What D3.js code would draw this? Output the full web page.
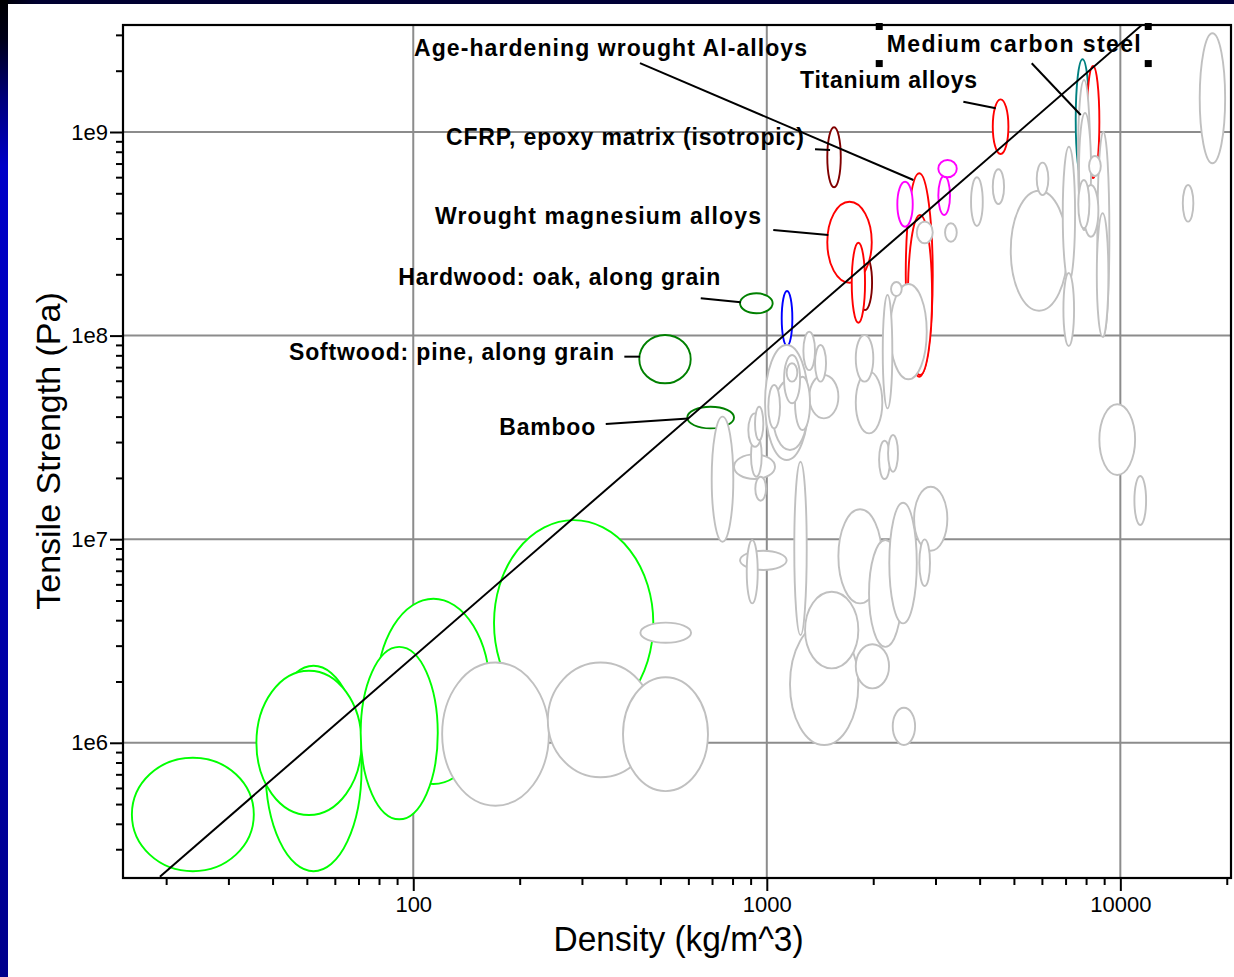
<!DOCTYPE html>
<html><head><meta charset="utf-8">
<script src="https://cdn.jsdelivr.net/npm/d3@7"></script>
<style>html,body{margin:0;padding:0;background:#fff;overflow:hidden}svg{display:block}</style>
</head><body>
<svg id="chart" width="1234" height="977"></svg>
<script>
// ---------------- DATA ----------------
const materialNames = [
  "Foam A","Foam B","Foam C","Foam D","Foam E","Foam F",
  "Bamboo","Softwood: pine, along grain","Hardwood: oak, along grain","Natural material",
  "CFRP, epoxy matrix (isotropic)","Composite B","Wrought magnesium alloys","Cast magnesium alloys",
  "Age-hardening wrought Al-alloys","Non age-hardening wrought Al-alloys",
  "Glass A","Glass B","Glass C","Titanium alloys","Medium carbon steel","High carbon steel",
  "Other 01","Other 02","Other 03","Other 04","Other 05","Other 06","Other 07","Other 08","Other 09","Other 10",
  "Other 11","Other 12","Other 13","Other 14","Other 15","Other 16","Other 17","Other 18","Other 19","Other 20",
  "Other 21","Other 22","Other 23","Other 24","Other 25","Other 26","Other 27","Other 28","Other 29","Other 30",
  "Other 31","Other 32","Other 33","Other 34","Other 35","Other 36","Other 37","Other 38","Other 39","Other 40",
  "Other 41","Other 42","Other 43","Other 44","Other 45","Other 46","Other 47","Other 48","Other 49","Other 50",
  "Other 51","Other 52","Other 53","Other 54","Other 55","Other 56","Other 57"
];
const materialFamily = [
  "foam","foam","foam","foam","foam","foam",
  "wood","wood","wood","natural",
  "composite","composite","nonferrous","nonferrous","nonferrous","nonferrous",
  "glass","glass","glass","nonferrous","ferrous","nonferrous",
  "other","other","other","other","other","other","other","other","other","other",
  "other","other","other","other","other","other","other","other","other","other",
  "other","other","other","other","other","other","other","other","other","other",
  "other","other","other","other","other","other","other","other","other","other",
  "other","other","other","other","other","other","other","other","other","other",
  "other","other","other","other","other","other","other"
];
// density range (kg/m^3)
const densityLow = [
  38.2,36.0,16.0,78.9,71.0,169.2,
  595.8,435.9,840,1102,
  1483,1811,1483,1739,2472,2508,
  2340,3056,3056,4357,7478,8035,
  120.7,240.2,392,439,1163,1283,988.6,4898,1196,698.5,
  16770,8610,2232,8723,1594,1946,2221,2610,1785,7592,
  7641,6873,8579,6902,1041,2128,807.7,840,877.5,1785,
  1319,2271,1785,1119,1202,7864,7606,3782,2701,10960,
  1010,1269,1369,902.2,886.6,926,2078,2203,4357,5801,
  15020,927.9,2656,1138,3193,8156,2246,2355
];
const densityHigh = [
  71.4,71.4,35.4,164.8,117.3,477.5,
  807.7,609.2,1039,1181,
  1619,1985,1981,1896,2947,2934,
  2587,3298,3446,4824,8173,8723,
  241.9,477.5,681.8,610.7,1815,1815,1311,7081,1297,804,
  19790,9311,2834,11010,2114,2408,2656,3241,2217,8211,
  8265,7447,9252,7398,1299,2265,1055,1138,942.6,2122,
  1594,2627,2001,1242,1325,8667,8173,4082,2895,11827,
  1090,1369,1471,967.4,967.4,977.7,2232,2350,4690,6258,
  16090,995,2947,1220,3446,8805,2408,2542
];
// tensile strength range (Pa)
const strengthLow = [
  2.34e5,4.42e5,2.34e5,6.27e5,4.21e5,1.21e6,
  3.50e7,5.83e7,1.287e8,8.89e7,
  5.35e8,1.336e8,1.818e8,1.157e8,6.28e7,6.40e7,
  3.425e8,3.91e8,5.99e8,7.80e8,5.81e8,5.94e8,
  4.91e5,6.77e5,5.79e5,3.10e6,9.75e5,2.32e6,2.448e7,1.325e8,3.38e6,9.72e6,
  7.02e8,9.87e7,6.10e7,2.067e7,4.84e6,2.96e6,3.86e6,8.78e6,1.851e6,3.30e8,
  3.415e8,1.839e8,9.87e7,8.89e7,2.742e7,4.39e7,1.975e7,7.06e6,4.84e6,3.31e7,
  3.92e7,9.75e5,5.94e7,4.65e7,3.44e7,3.06e8,3.365e8,3.455e8,5.89e6,1.174e7,
  3.50e7,6.77e7,5.94e7,2.027e7,2.846e7,3.07e7,1.975e7,2.145e7,4.43e8,4.90e8,
  3.63e8,1.545e7,2.84e8,5.94e7,2.89e8,6.08e8,1.564e8,3.01e7
];
const strengthHigh = [
  2.39e6,2.26e6,8.45e5,5.10e6,2.96e6,1.24e7,
  4.47e7,1.007e8,1.613e8,1.656e8,
  1.055e9,2.488e8,4.545e8,2.859e8,6.27e8,3.91e8,
  5.70e8,6.08e8,7.29e8,1.447e9,2.276e9,2.11e9,
  2.48e6,2.48e6,2.10e6,3.89e6,3.86e6,5.52e6,8.99e7,5.15e8,2.40e7,4.00e7,
  3.053e9,1.003e9,1.792e8,4.60e7,1.402e7,9.91e6,1.51e7,1.81e7,3.05e6,1.80e9,
  1.24e9,8.47e8,3.99e8,2.03e8,6.05e7,1.582e8,2.61e7,8.78e6,9.91e6,6.65e7,
  6.40e7,1.487e6,1.007e8,8.03e7,6.28e7,5.49e8,5.81e8,5.99e8,9.98e6,2.043e7,
  5.72e7,1.045e8,8.99e7,3.25e7,4.15e7,4.47e7,3.045e7,3.25e7,6.56e8,7.07e8,
  5.49e8,2.027e7,3.63e8,7.31e7,3.56e8,7.62e8,1.833e8,3.50e7
];

const xTickValues = [100, 1000, 10000];
const xTickLabels = ["100", "1000", "10000"];
const yTickValues = [1e6, 1e7, 1e8, 1e9];
const yTickLabels = ["1e6", "1e7", "1e8", "1e9"];

// guideline  sigma^(2/3)/rho = const  (slope 1.5)
const guideDensity = [19.2, 11500];
const guideStrength = [2.2e5, 3.35e9];

// annotations
const annotationTexts = ["Age-hardening wrought Al-alloys","Medium carbon steel","Titanium alloys",
  "CFRP, epoxy matrix (isotropic)","Wrought magnesium alloys","Hardwood: oak, along grain",
  "Softwood: pine, along grain","Bamboo"];
const annotationDensity = [100.5, 2184, 1242, 123.7, 115.2, 90.7, 44.5, 175.1];
const annotationStrength = [2.36e9, 2.47e9, 1.64e9, 8.63e8, 3.53e8, 1.772e8, 7.59e7, 3.25e7];
const leaderDensityFrom = [437.8, 5615, 3597, 1369, 1043, 650.4, 395.4, 350.3];
const leaderStrengthFrom = [2.18e9, 2.175e9, 1.409e9, 8.22e8, 3.30e8, 1.524e8, 7.88e7, 3.68e7];
const leaderDensityTo = [2598, 7727, 4443, 1510, 1493, 843.9, 437.8, 599.8];
const leaderStrengthTo = [5.81e8, 1.212e9, 1.307e9, 8.16e8, 3.12e8, 1.457e8, 7.88e7, 3.92e7];

// ---------------- LAYOUT / STYLE ----------------
const W = 1234, H = 977;
const plot = {left: 123, right: 1231, top: 25, bottom: 878};
const labelWidths = [393, 254, 177, 358, 326, 322, 325, 96];
const familyColor = {foam:"#00ff00", wood:"#008000", natural:"#0000ff", composite:"#800000",
  nonferrous:"#ff0000", glass:"#ff00ff", ferrous:"#008080", other:"#c0c0c0"};
const FONT = "Arial, 'Liberation Sans', Helvetica, sans-serif";

const svg = d3.select("#chart");
const defs = svg.append("defs");

// background frame
const lg = defs.append("linearGradient").attr("id","leftBand").attr("x1",0).attr("y1",0).attr("x2",0).attr("y2",1);
[[0,"#000000"],[0.04,"#000018"],[0.1,"#00007a"],[0.17,"#0000c8"],[0.45,"#0000b8"],[1,"#00008c"]]
  .forEach(([o,c]) => lg.append("stop").attr("offset",o).attr("stop-color",c));
const tg = defs.append("linearGradient").attr("id","topBand").attr("x1",0).attr("y1",0).attr("x2",1).attr("y2",0);
[[0,"#000000"],[0.03,"#000030"],[1,"#00003c"]].forEach(([o,c]) => tg.append("stop").attr("offset",o).attr("stop-color",c));

svg.append("rect").attr("width",W).attr("height",H).attr("fill","#ffffff");
svg.append("rect").attr("x",0).attr("y",0).attr("width",W).attr("height",4).attr("fill","url(#topBand)");
svg.append("rect").attr("x",0).attr("y",0).attr("width",8).attr("height",H).attr("fill","url(#leftBand)");

defs.append("clipPath").attr("id","plotClip").append("rect")
  .attr("x",plot.left).attr("y",plot.top).attr("width",plot.right-plot.left).attr("height",plot.bottom-plot.top);

// scales
const x = d3.scaleLog().domain([15.1, 20560]).range([plot.left, plot.right]);
const y = d3.scaleLog().domain([2.167e5, 3.354e9]).range([plot.bottom, plot.top]);

// gridlines
const grid = svg.append("g");
grid.selectAll("line.vx").data(xTickValues).join("line")
  .attr("x1",d=>x(d)).attr("x2",d=>x(d)).attr("y1",plot.top).attr("y2",plot.bottom)
  .attr("stroke","#8c8c8c").attr("stroke-width",2);
grid.selectAll("line.hy").data(yTickValues).join("line")
  .attr("y1",d=>y(d)).attr("y2",d=>y(d)).attr("x1",plot.left).attr("x2",plot.right)
  .attr("stroke","#8c8c8c").attr("stroke-width",2);

// materials
const mats = materialNames.map((n,i)=>({name:n, fam:materialFamily[i],
  d0:densityLow[i], d1:densityHigh[i], s0:strengthLow[i], s1:strengthHigh[i]}));
const logArea = m => Math.log10(m.d1/m.d0)*Math.log10(m.s1/m.s0);
const colored = mats.filter(m=>m.fam!=="other");
const others = mats.filter(m=>m.fam==="other").sort((a,b)=>logArea(b)-logArea(a));
const ordered = colored.concat(others);

const eg = svg.append("g").attr("clip-path","url(#plotClip)");
eg.selectAll("ellipse").data(ordered).join("ellipse")
  .attr("cx",m=>(x(m.d0)+x(m.d1))/2)
  .attr("cy",m=>(y(m.s0)+y(m.s1))/2)
  .attr("rx",m=>Math.abs(x(m.d1)-x(m.d0))/2)
  .attr("ry",m=>Math.abs(y(m.s0)-y(m.s1))/2)
  .attr("fill","#ffffff")
  .attr("stroke",m=>familyColor[m.fam])
  .attr("stroke-width",1.9);

// guideline
svg.append("g").attr("clip-path","url(#plotClip)").append("path")
  .datum(guideDensity.map((d,i)=>[d,guideStrength[i]]))
  .attr("d", d3.line().x(d=>x(d[0])).y(d=>y(d[1])))
  .attr("stroke","#000").attr("stroke-width",2).attr("fill","none");

// leaders
const ann = svg.append("g");
ann.selectAll("line").data(annotationTexts).join("line")
  .attr("x1",(d,i)=>x(leaderDensityFrom[i])).attr("y1",(d,i)=>y(leaderStrengthFrom[i]))
  .attr("x2",(d,i)=>x(leaderDensityTo[i])).attr("y2",(d,i)=>y(leaderStrengthTo[i]))
  .attr("stroke","#000").attr("stroke-width",2);

const labels = ann.selectAll("text").data(annotationTexts).join("text")
  .attr("x",(d,i)=>x(annotationDensity[i])).attr("y",(d,i)=>y(annotationStrength[i]))
  .attr("font-family",FONT).attr("font-weight","bold").attr("font-size",23)
  .attr("textLength",(d,i)=>labelWidths[i]).attr("lengthAdjust","spacing")
  .attr("fill","#000").text(d=>d);

// selection handles around "Medium carbon steel" label
const mcs = labels.filter((d,i)=>i===1).node().getBBox();
const hx0 = mcs.x - 11, hx1 = mcs.x + mcs.width + 4, hy0 = plot.top - 2, hy1 = mcs.y + mcs.height + 3;
[[hx0,hy0],[hx1,hy0],[hx0,hy1],[hx1,hy1]].forEach(([hx,hy]) =>
  ann.append("rect").attr("x",hx).attr("y",hy).attr("width",7).attr("height",7).attr("fill","#000"));

// frame
svg.append("rect").attr("x",plot.left).attr("y",plot.top)
  .attr("width",plot.right-plot.left).attr("height",plot.bottom-plot.top)
  .attr("fill","none").attr("stroke","#000").attr("stroke-width",2.2);

// axes
function minorTicks(domain){
  const out=[]; const lo=Math.floor(Math.log10(domain[0])), hi=Math.ceil(Math.log10(domain[1]));
  for(let e=lo;e<=hi;e++) for(let k=2;k<=9;k++){const v=k*Math.pow(10,e); if(v>=domain[0]&&v<=domain[1]) out.push(v);}
  return out;
}
const xAxisMajor = d3.axisBottom(x).tickValues(xTickValues).tickFormat((d,i)=>xTickLabels[i]).tickSize(13).tickPadding(5).tickSizeOuter(0);
const xAxisMinor = d3.axisBottom(x).tickValues(minorTicks(x.domain())).tickFormat("").tickSize(7).tickSizeOuter(0);
const yAxisMajor = d3.axisLeft(y).tickValues(yTickValues).tickFormat((d,i)=>yTickLabels[i]).tickSize(13).tickPadding(2).tickSizeOuter(0);
const yAxisMinor = d3.axisLeft(y).tickValues(minorTicks(y.domain())).tickFormat("").tickSize(7).tickSizeOuter(0);

function styleAxis(g){
  g.select(".domain").remove();
  g.selectAll(".tick line").attr("stroke","#000").attr("stroke-width",2);
  g.selectAll(".tick text").attr("font-family",FONT).attr("font-size",22).attr("fill","#000");
}
svg.append("g").attr("transform",`translate(0,${plot.bottom})`).call(xAxisMinor).call(styleAxis);
svg.append("g").attr("transform",`translate(0,${plot.bottom})`).call(xAxisMajor).call(styleAxis);
svg.append("g").attr("transform",`translate(${plot.left},0)`).call(yAxisMinor).call(styleAxis);
svg.append("g").attr("transform",`translate(${plot.left},0)`).call(yAxisMajor).call(styleAxis);

// axis titles
svg.append("text").attr("x",678.6).attr("y",951).attr("text-anchor","middle")
  .attr("font-family",FONT).attr("font-size",35).attr("textLength",250).attr("lengthAdjust","spacingAndGlyphs")
  .attr("fill","#000").text("Density (kg/m^3)");
svg.append("text").attr("transform","translate(60,451) rotate(-90)").attr("text-anchor","middle")
  .attr("font-family",FONT).attr("font-size",34).attr("fill","#000").text("Tensile Strength (Pa)");
</script>
</body></html>
